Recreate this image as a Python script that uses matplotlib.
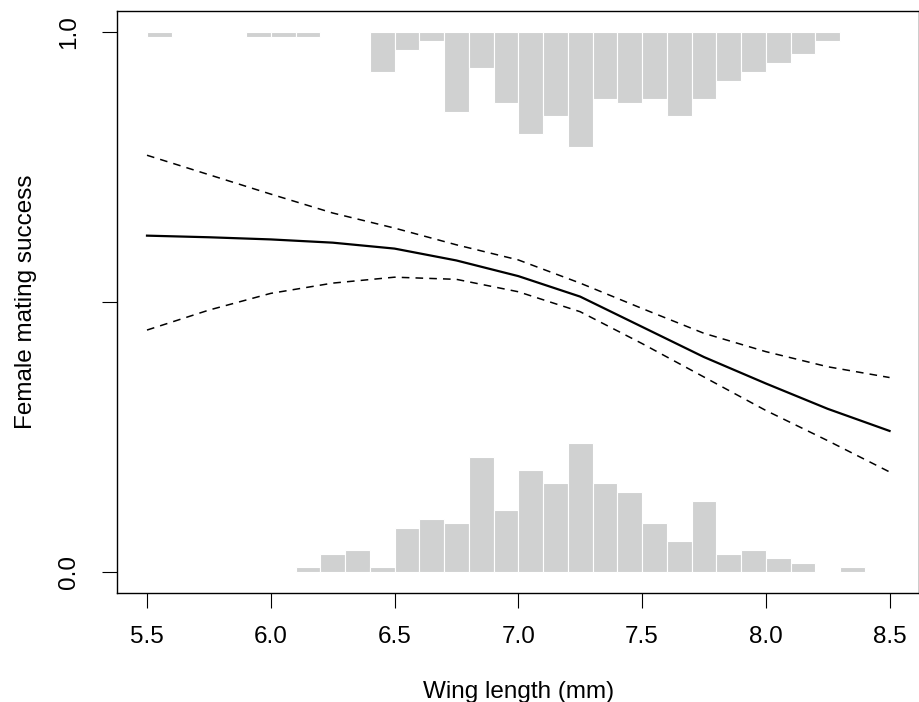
import numpy as np
import matplotlib
matplotlib.use("Agg")
import matplotlib.pyplot as plt

plt.rcParams['font.family'] = ['Liberation Sans', 'DejaVu Sans']

# histogram bins (left edges, width 0.1)
bin_left = np.round(np.arange(5.5, 8.45, 0.1), 2)
# counts of failures (bottom) and successes (top)
count_fail = [0, 0, 0, 0, 0, 0, 1, 4, 5, 1, 10, 12, 11, 26, 14,
              23, 20, 29, 20, 18, 11, 7, 16, 4, 5, 3, 2, 0, 1, 0]
count_success = [1, 0, 0, 0, 1, 1, 1, 0, 0, 9, 4, 2, 18, 8, 16,
                 23, 19, 26, 15, 16, 15, 19, 15, 11, 9, 7, 5, 2, 0, 0]
count_scale = 0.0082  # height of one count on the probability axis

# fitted curve and confidence band
wing = [5.5, 5.75, 6.0, 6.25, 6.5, 6.75, 7.0, 7.25, 7.5, 7.75, 8.0, 8.25, 8.5]
fit = [0.623, 0.620, 0.616, 0.610, 0.599, 0.577, 0.548, 0.510, 0.454,
       0.398, 0.349, 0.302, 0.261]
upper = [0.772, 0.736, 0.700, 0.665, 0.637, 0.606, 0.578, 0.535, 0.488,
         0.442, 0.408, 0.380, 0.360]
lower = [0.448, 0.485, 0.516, 0.535, 0.546, 0.542, 0.519, 0.482, 0.423,
         0.361, 0.299, 0.243, 0.185]

fig = plt.figure(figsize=(9.2, 7.02), dpi=100)
ax = fig.add_axes([0.1275, 0.1548, 0.8717, 0.83])

bar_col = '#D0D1D1'
h_fail = np.array(count_fail) * count_scale
h_succ = np.array(count_success) * count_scale
keep = np.array(count_fail) > 0
ax.bar(bin_left[keep], h_fail[keep], width=0.1, bottom=0, align='edge',
       color=bar_col, edgecolor='white', linewidth=0.8)
keep = np.array(count_success) > 0
ax.bar(bin_left[keep], -h_succ[keep], width=0.1, bottom=1, align='edge',
       color=bar_col, edgecolor='white', linewidth=0.8)

ax.plot(wing, fit, color='black', lw=1.6)
ax.plot(wing, upper, color='black', lw=1.1, dashes=(5, 4))
ax.plot(wing, lower, color='black', lw=1.1, dashes=(5, 4))

ax.set_xlim(5.38, 8.62)
ax.set_ylim(-0.04, 1.04)
ax.set_xticks([5.5, 6.0, 6.5, 7.0, 7.5, 8.0, 8.5])
ax.set_xticklabels(['5.5', '6.0', '6.5', '7.0', '7.5', '8.0', '8.5'])
ax.set_yticks([0, 0.5, 1.0])
ax.set_yticklabels(['0.0', '', '1.0'], rotation=90, va='center')
ax.tick_params(length=10.5, width=0.8, labelsize=17.5, direction='out')
ax.tick_params(axis='x', pad=13)
ax.tick_params(axis='y', pad=16.5)
for s in ax.spines.values():
    s.set_linewidth(1.0)

ax.set_xlabel('Wing length (mm)', fontsize=17.5, labelpad=24)
ax.set_ylabel('Female mating success', fontsize=17.5, labelpad=15)

fig.savefig('out.png', dpi=100)
